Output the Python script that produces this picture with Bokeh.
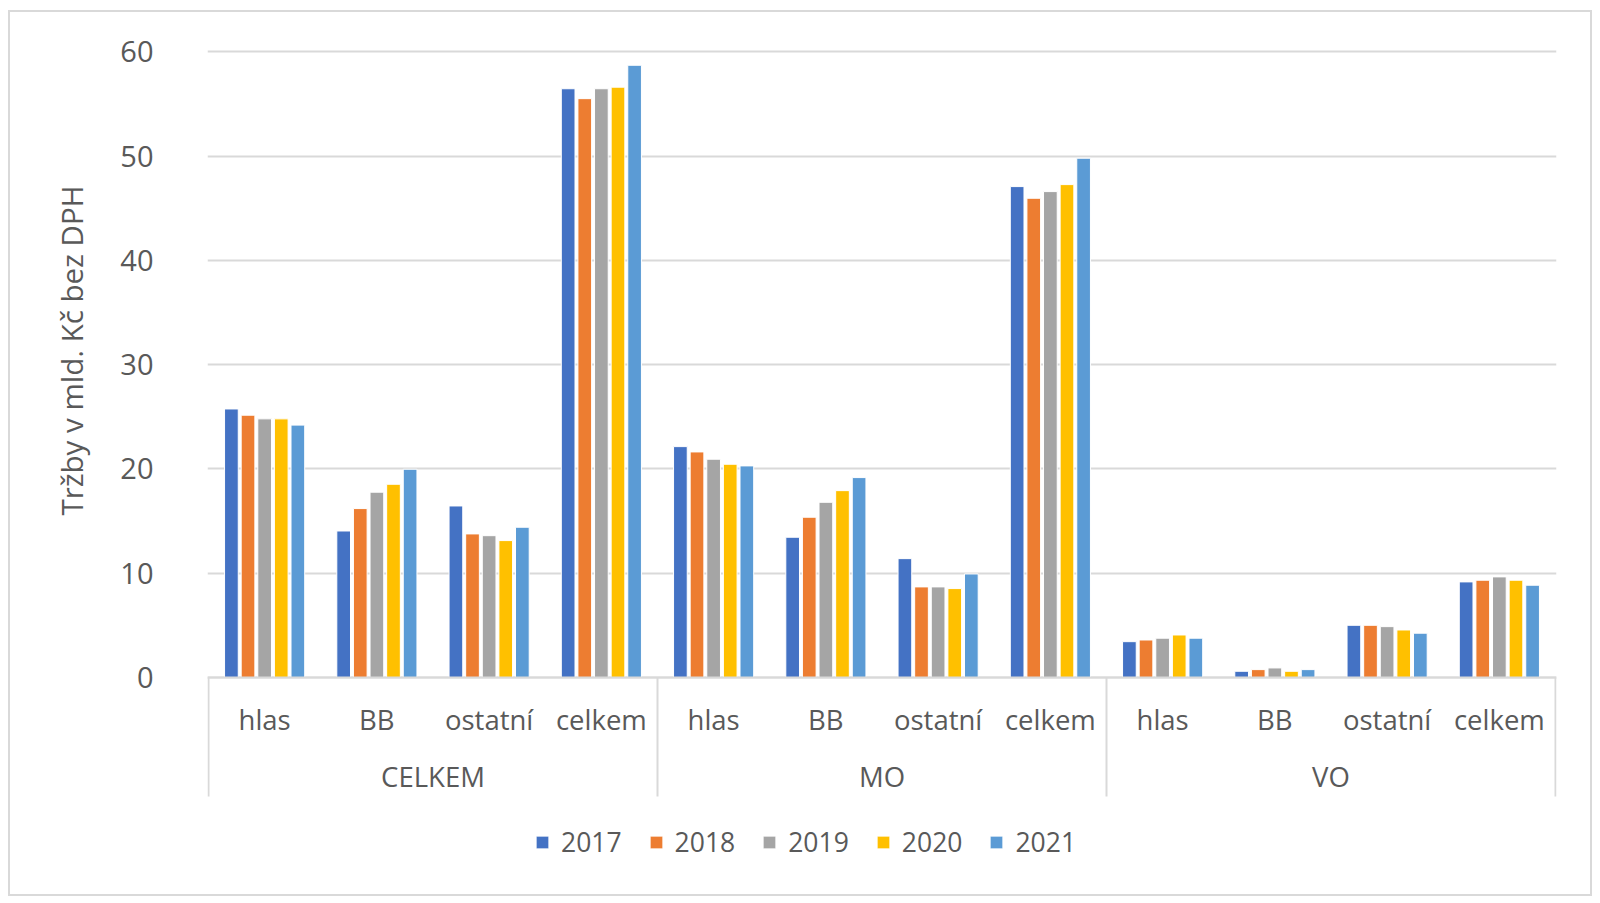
from bokeh.plotting import figure
from bokeh.models import (FactorRange, ColumnDataSource, Legend, LegendItem,
                          FixedTicker, Range1d, Title)
from bokeh.transform import dodge
from bokeh.embed import file_html
from bokeh.resources import INLINE

groups = ["CELKEM", "MO", "VO"]
subs = ["hlas", "BB", "ostatní", "celkem"]
years = ["2017", "2018", "2019", "2020", "2021"]

# values in order: CELKEM(hlas, BB, ostatní, celkem), MO(...), VO(...)
v2017 = [25.75, 14.05, 16.45, 56.45, 22.14, 13.45, 11.40, 47.07, 3.44, 0.60, 5.01, 9.17]
v2018 = [25.15, 16.20, 13.77, 55.50, 21.63, 15.37, 8.69, 45.95, 3.60, 0.76, 5.01, 9.33]
v2019 = [24.80, 17.77, 13.60, 56.45, 20.93, 16.80, 8.69, 46.59, 3.77, 0.92, 4.88, 9.65]
v2020 = [24.80, 18.53, 13.13, 56.60, 20.45, 17.92, 8.53, 47.26, 4.08, 0.60, 4.56, 9.33]
v2021 = [24.20, 19.97, 14.41, 58.70, 20.29, 19.17, 9.93, 49.79, 3.77, 0.76, 4.25, 8.85]

y_ticks = [0, 10, 20, 30, 40, 50, 60]
y_title = "Tržby v mld. Kč bez DPH"
colors = ["#4472C4", "#ED7D31", "#A5A5A5", "#FFC000", "#5B9BD5"]
series = [v2017, v2018, v2019, v2020, v2021]

factors = [(g, s) for g in groups for s in subs]
data = {"x": factors}
for yr, vals in zip(years, series):
    data[yr] = vals
source = ColumnDataSource(data)

FONT = "Open Sans"
TXT = "#595959"
GRID = "#d9d9d9"

x_range = FactorRange(*factors, range_padding=0.0015, group_padding=0,
                      subgroup_padding=0, factor_padding=0)

SEP_BOTTOM = -11.4
p = figure(x_range=x_range, y_range=Range1d(-18.5, 60.5), width=1584, height=886,
           output_backend="svg", toolbar_location=None,
           min_border_left=197, min_border_right=38, min_border_top=34,
           min_border_bottom=28,
           styles={"border": "2px solid #d9d9d9", "margin-left": "8px",
                   "margin-top": "10px"})
p.outline_line_color = None

pitch = 0.148
renderers = []
for i, (yr, c) in enumerate(zip(years, colors)):
    r = p.vbar(x=dodge("x", (i - 2) * pitch, range=p.x_range), top=yr,
               width=0.122, source=source, fill_color=c, line_color="white",
               line_width=1)
    renderers.append(r)

# group separators of the category axis (left edge of each group, right edge of last)
sep_left = ColumnDataSource({"x": [(g, subs[0]) for g in groups]})
sep_right = ColumnDataSource({"x": [(groups[-1], subs[-1])]})
p.segment(x0=dodge("x", -0.5, range=p.x_range), x1=dodge("x", -0.5, range=p.x_range),
          y0=0, y1=SEP_BOTTOM, source=sep_left, line_color=GRID, line_width=2)
p.segment(x0=dodge("x", 0.5, range=p.x_range), x1=dodge("x", 0.5, range=p.x_range),
          y0=0, y1=SEP_BOTTOM, source=sep_right, line_color=GRID, line_width=2)

# y axis
p.yaxis.ticker = FixedTicker(ticks=y_ticks)
p.yaxis.axis_line_color = None
p.yaxis.major_tick_line_color = None
p.yaxis.minor_tick_line_color = None
p.yaxis.major_label_text_font = FONT
p.yaxis.major_label_text_font_size = "29px"
p.yaxis.major_label_text_color = TXT
p.yaxis.major_label_standoff = 48

ytitle = Title(text=y_title, align="right", offset=139, vertical_align="middle",
               standoff=50, text_font=FONT, text_font_size="29.5px",
               text_font_style="normal", text_color=TXT)
p.add_layout(ytitle, "left")

p.ygrid.ticker = FixedTicker(ticks=y_ticks)
p.ygrid.grid_line_color = GRID
p.ygrid.grid_line_width = 2
p.xgrid.grid_line_color = None

# x axis drawn at y = 0
xa = p.xaxis[0]
xa.fixed_location = 0
xa.axis_line_color = GRID
xa.axis_line_width = 2
xa.major_tick_line_color = None
xa.minor_tick_line_color = None
xa.major_label_text_font = FONT
xa.major_label_text_font_size = "27.5px"
xa.major_label_text_color = TXT
xa.major_label_standoff = 17
xa.group_text_font = FONT
xa.group_text_font_size = "27.5px"
xa.group_text_font_style = "normal"
xa.group_text_color = TXT
xa.separator_line_color = None

legend = Legend(items=[LegendItem(label=yr, renderers=[r]) for yr, r in zip(years, renderers)],
                orientation="horizontal", location=(327, 10),
                glyph_width=16, glyph_height=16, label_height=30,
                label_standoff=11, spacing=26, padding=0, margin=0,
                label_text_font=FONT, label_text_font_size="26.5px",
                label_text_color=TXT, border_line_color=None,
                background_fill_alpha=0)
p.add_layout(legend, "center")

open("out.html", "w").write(file_html(p, INLINE))
